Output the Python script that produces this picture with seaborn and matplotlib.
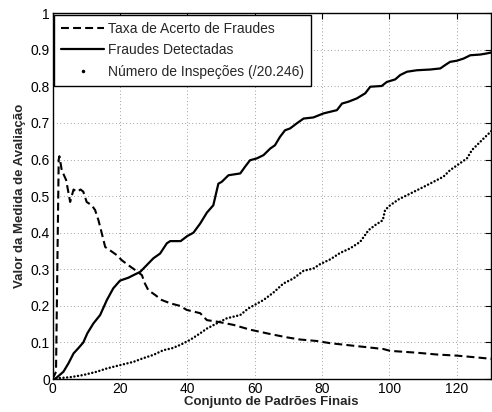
import numpy as np
import pandas as pd
import seaborn as sns
import matplotlib
matplotlib.use("Agg")
import matplotlib.pyplot as plt
from matplotlib.lines import Line2D
from matplotlib.ticker import FuncFormatter

sns.set_style("white")
plt.rcParams['font.family'] = ['Liberation Sans', 'DejaVu Sans']

# ---------- Data ----------
taxa_x = [0, 1.0, 1.8, 2.0, 2.7, 4.0, 5.2, 6.2, 7.2, 8.3, 9.1, 10.1, 11.6, 12.6, 13.6,
          14.6, 15.6, 17.0, 19.0, 20.5, 22.5, 24.5, 26.5, 27.4, 28.4, 30.4, 32.4, 34.9,
          37.8, 39.8, 43.8, 45.8, 48.7, 53.7, 58.6, 64.6, 69.5, 73.5, 78.4, 82.4, 88.3,
          93.3, 98.2, 100.2, 108.1, 114.1, 120.0, 126.0, 130.5]
taxa_y = [0, 0.02, 0.60, 0.609, 0.571, 0.544, 0.484, 0.518, 0.512, 0.518, 0.512, 0.484,
          0.475, 0.462, 0.434, 0.398, 0.361, 0.352, 0.339, 0.325, 0.311, 0.298, 0.284,
          0.261, 0.243, 0.230, 0.216, 0.207, 0.200, 0.189, 0.180, 0.161, 0.157, 0.148,
          0.135, 0.123, 0.114, 0.108, 0.104, 0.098, 0.092, 0.087, 0.082, 0.077, 0.072,
          0.067, 0.064, 0.059, 0.055]

detect_x = [0, 0.7, 3.2, 4.7, 6.2, 7.6, 9.1, 10.3, 12.1, 14.1, 16.1, 18.0, 20.0, 22.5,
            24.0, 26.0, 27.9, 29.9, 31.9, 33.9, 34.9, 38.0, 40.0, 41.8, 43.8, 45.8, 47.7,
            49.2, 50.2, 52.2, 55.7, 57.1, 58.6, 60.6, 62.6, 64.6, 66.0, 67.5, 69.0, 70.5,
            72.5, 74.5, 77.4, 80.4, 84.4, 85.9, 87.8, 90.3, 92.8, 94.3, 97.7, 99.2, 101.7,
            103.2, 105.2, 108.1, 112.1, 115.1, 116.5, 118.0, 120.0, 122.0, 124.0, 127.0,
            128.9, 130.4]
detect_y = [0, 0, 0.02, 0.043, 0.07, 0.084, 0.10, 0.125, 0.152, 0.175, 0.216, 0.248,
            0.269, 0.277, 0.284, 0.293, 0.311, 0.33, 0.343, 0.371, 0.377, 0.377, 0.391,
            0.400, 0.425, 0.455, 0.475, 0.534, 0.539, 0.557, 0.562, 0.58, 0.598, 0.603,
            0.612, 0.630, 0.639, 0.662, 0.680, 0.685, 0.699, 0.712, 0.715, 0.726, 0.735,
            0.753, 0.758, 0.767, 0.781, 0.799, 0.801, 0.812, 0.819, 0.831, 0.840, 0.844,
            0.846, 0.849, 0.858, 0.867, 0.870, 0.876, 0.885, 0.887, 0.890, 0.893]

insp_x = [0, 1.2, 5.2, 9.1, 13.1, 16.1, 20.0, 24.0, 26.9, 29.9, 32.9, 35.4, 37.8, 40.8,
          43.8, 45.8, 48.7, 51.7, 55.7, 58.1, 62.6, 65.5, 68.5, 71.5, 74.5, 77.4, 79.4,
          82.4, 85.4, 88.3, 91.3, 93.8, 95.8, 98.0, 98.7, 100.2, 102.7, 110.1, 116.0,
          118.0, 123.0, 124.5, 128.0, 130.5]
insp_y = [0, 0.002, 0.005, 0.011, 0.02, 0.029, 0.038, 0.047, 0.057, 0.066, 0.079, 0.084,
          0.093, 0.107, 0.125, 0.138, 0.152, 0.166, 0.175, 0.193, 0.216, 0.236, 0.261,
          0.275, 0.296, 0.302, 0.314, 0.327, 0.345, 0.357, 0.375, 0.407, 0.421, 0.434,
          0.462, 0.475, 0.491, 0.525, 0.553, 0.571, 0.603, 0.626, 0.658, 0.68]

labels = ["Taxa de Acerto de Fraudes", "Fraudes Detectadas", "Número de Inspeções (/20.246)"]

# ---------- Plot ----------
fig = plt.figure(figsize=(4.92, 4.12), dpi=100)
ax = fig.add_axes([0.107, 0.080, 0.890, 0.888])

dash = (0, (3.8, 2))
sns.lineplot(x=taxa_x, y=taxa_y, ax=ax, color="black", linewidth=1.5,
             estimator=None, sort=False, linestyle=dash)
sns.lineplot(x=detect_x, y=detect_y, ax=ax, color="black", linewidth=1.6,
             estimator=None, sort=False)
sns.lineplot(x=insp_x, y=insp_y, ax=ax, color="black", linewidth=1.8,
             estimator=None, sort=False, linestyle=(0, (0.01, 1.45)),
             dash_capstyle="round")

ax.set_xlim(0, 130)
ax.set_ylim(0, 1)
ax.set_xticks(range(0, 121, 20))
ax.set_yticks(np.arange(0, 1.01, 0.1))
ax.yaxis.set_major_formatter(FuncFormatter(lambda v, p: f"{v:.1f}".rstrip('0').rstrip('.') if v else "0"))

ax.grid(True, color="black", linestyle=(0, (1, 4)), linewidth=0.5, alpha=0.7)
ax.tick_params(direction="in", length=4, width=0.8, top=True, right=True,
               labelsize=10, colors="black", pad=2)
for s in ax.spines.values():
    s.set_visible(True)
    s.set_color("black")
    s.set_linewidth(1.0)

ax.set_xlabel("Conjunto de Padrões Finais", fontsize=9.5, fontweight="bold", labelpad=0)
ax.set_ylabel("Valor da Medida de Avaliação", fontsize=9.5, fontweight="bold", labelpad=3)

handles = [Line2D([0], [0], color="black", linewidth=1.5, linestyle=dash),
           Line2D([0], [0], color="black", linewidth=1.6),
           Line2D([0], [0], color="black", linestyle="none", marker=".", markersize=3)]
leg = ax.legend(handles, labels, loc="upper left", fontsize=10, frameon=True,
                fancybox=False, framealpha=1, edgecolor="black", handlelength=3.1,
                handletextpad=0.3, labelspacing=0.55, borderpad=0.5,
                borderaxespad=0.1)
leg.get_frame().set_linewidth(1.0)

fig.savefig("out.png", dpi=100)
